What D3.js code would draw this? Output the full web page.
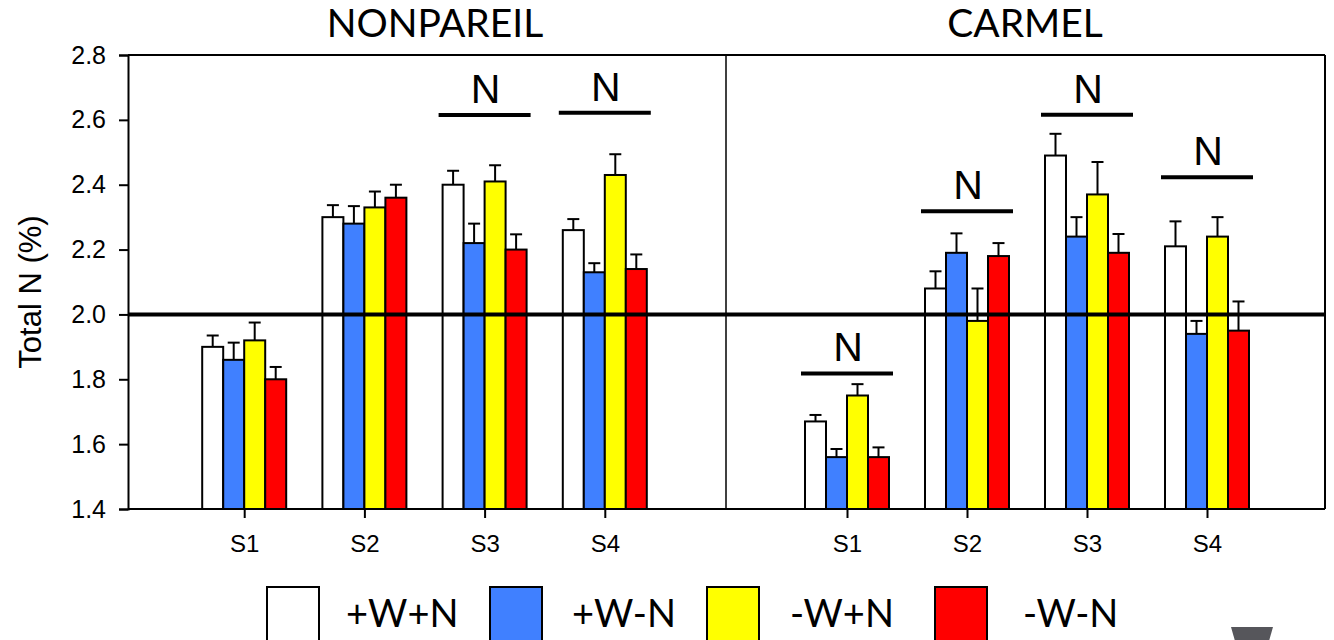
<!DOCTYPE html>
<html>
<head>
<meta charset="utf-8">
<script src="https://cdn.jsdelivr.net/npm/d3@7"></script>
<style>
  html, body { margin: 0; padding: 0; background: #fff; }
  svg { display: block; }
</style>
</head>
<body>
<svg id="chart" width="1334" height="640"></svg>
<script>
// Sampling dates and nitrogen/water treatments
const categories = ["S1", "S2", "S3", "S4"];
const series = ["+W+N", "+W-N", "-W+N", "-W-N"];
const seriesColors = ["#ffffff", "#4080ff", "#ffff00", "#ff0000"];
const yTicks = [1.4, 1.6, 1.8, 2.0, 2.2, 2.4, 2.6, 2.8];
const referenceLevel = 2.0;

// Leaf total N (%) per sampling date, one row per date, columns follow `series`
const nonpareilMeans = [
  [1.90, 1.86, 1.92, 1.80],
  [2.30, 2.28, 2.33, 2.36],
  [2.40, 2.22, 2.41, 2.20],
  [2.26, 2.13, 2.43, 2.14]
];
const nonpareilErrors = [
  [0.035, 0.053, 0.055, 0.038],
  [0.037, 0.054, 0.049, 0.040],
  [0.043, 0.060, 0.050, 0.047],
  [0.034, 0.028, 0.064, 0.045]
];
const carmelMeans = [
  [1.67, 1.56, 1.75, 1.56],
  [2.08, 2.19, 1.98, 2.18],
  [2.49, 2.24, 2.37, 2.19],
  [2.21, 1.94, 2.24, 1.95]
];
const carmelErrors = [
  [0.020, 0.025, 0.035, 0.030],
  [0.053, 0.060, 0.100, 0.040],
  [0.067, 0.060, 0.100, 0.058],
  [0.077, 0.040, 0.060, 0.090]
];
// Level of the "N" significance bar per date (null = no significant N effect)
const nonpareilSignificance = [null, null, 2.615, 2.622];
const carmelSignificance = [1.818, 2.318, 2.616, 2.423];

const panels = [
  { title: "NONPAREIL", means: nonpareilMeans, errors: nonpareilErrors, sig: nonpareilSignificance, range: [124, 725], titleX: 435 },
  { title: "CARMEL", means: carmelMeans, errors: carmelErrors, sig: carmelSignificance, range: [727, 1327], titleX: 1025 }
];

const svg = d3.select("#chart");
const frame = { left: 128, right: 1325, top: 55, bottom: 509, divider: 726 };

const y = d3.scaleLinear().domain([1.4, 2.8]).range([frame.bottom, frame.top]);
const inner = d3.scaleBand().domain(series).range([-42, 42]).padding(0);
const color = d3.scaleOrdinal().domain(series).range(seriesColors);

// Y axis
const yAxis = svg.append("g")
  .attr("transform", `translate(${frame.left},0)`)
  .call(d3.axisLeft(y).tickValues(yTicks).tickFormat(d3.format(".1f")).tickSize(9).tickPadding(13));
yAxis.select(".domain").attr("stroke", "#000").attr("stroke-width", 2);
yAxis.selectAll(".tick line").attr("stroke", "#000").attr("stroke-width", 2);
yAxis.selectAll(".tick text")
  .attr("font-family", "Arial, 'Liberation Sans', sans-serif")
  .attr("font-size", 25)
  .attr("fill", "#000");

svg.append("text")
  .attr("transform", `translate(41,${(frame.top + frame.bottom) / 2 + 10}) rotate(-90)`)
  .attr("text-anchor", "middle")
  .attr("font-family", "Arial, 'Liberation Sans', sans-serif")
  .attr("font-size", 31)
  .text("Total N (%)");

// Plot frame: top, right and middle divider
svg.append("line").attr("x1", frame.left).attr("x2", frame.right).attr("y1", frame.top).attr("y2", frame.top)
  .attr("stroke", "#000").attr("stroke-width", 2);
svg.append("line").attr("x1", frame.right).attr("x2", frame.right).attr("y1", frame.top).attr("y2", frame.bottom)
  .attr("stroke", "#000").attr("stroke-width", 2);
svg.append("line").attr("x1", frame.divider).attr("x2", frame.divider).attr("y1", frame.top).attr("y2", frame.bottom)
  .attr("stroke", "#000").attr("stroke-width", 1.5);

panels.forEach((panel, pi) => {
  const x = d3.scalePoint().domain(categories).range(panel.range).padding(1);

  // Bottom axis for this panel
  const xAxis = svg.append("g")
    .attr("transform", `translate(0,${frame.bottom})`)
    .call(d3.axisBottom(x).tickSize(9).tickPadding(17));
  xAxis.select(".domain").remove();
  xAxis.selectAll(".tick line").attr("stroke", "#000").attr("stroke-width", 2);
  xAxis.selectAll(".tick text")
    .attr("font-family", "Arial, 'Liberation Sans', sans-serif")
    .attr("font-size", 24)
    .attr("fill", "#000");

  svg.append("line")
    .attr("x1", pi === 0 ? frame.left : frame.divider)
    .attr("x2", pi === 0 ? frame.divider : frame.right)
    .attr("y1", frame.bottom).attr("y2", frame.bottom)
    .attr("stroke", "#000").attr("stroke-width", 2);

  // Bars and error bars
  categories.forEach((cat, ci) => {
    const g = svg.append("g").attr("transform", `translate(${x(cat)},0)`);
    const rows = series.map((s, si) => ({ s, v: panel.means[ci][si], e: panel.errors[ci][si] }));

    g.selectAll("line.err")
      .data(rows).join("line")
      .attr("class", "err")
      .attr("x1", d => inner(d.s) + inner.bandwidth() / 2)
      .attr("x2", d => inner(d.s) + inner.bandwidth() / 2)
      .attr("y1", d => y(d.v)).attr("y2", d => y(d.v + d.e))
      .attr("stroke", "#000").attr("stroke-width", 2);
    g.selectAll("line.cap")
      .data(rows).join("line")
      .attr("class", "cap")
      .attr("x1", d => inner(d.s) + inner.bandwidth() / 2 - 6)
      .attr("x2", d => inner(d.s) + inner.bandwidth() / 2 + 6)
      .attr("y1", d => y(d.v + d.e)).attr("y2", d => y(d.v + d.e))
      .attr("stroke", "#000").attr("stroke-width", 2);

    g.selectAll("rect")
      .data(rows).join("rect")
      .attr("x", d => inner(d.s))
      .attr("width", inner.bandwidth())
      .attr("y", d => y(d.v))
      .attr("height", d => y(1.4) - y(d.v))
      .attr("fill", d => color(d.s))
      .attr("stroke", "#000").attr("stroke-width", 2);

    // Significance marker
    const level = panel.sig[ci];
    if (level !== null) {
      g.append("line")
        .attr("x1", -46).attr("x2", 46)
        .attr("y1", y(level)).attr("y2", y(level))
        .attr("stroke", "#000").attr("stroke-width", 4);
      g.append("text")
        .attr("x", 1).attr("y", y(level) - 12)
        .attr("text-anchor", "middle")
        .attr("font-family", "Arial, 'Liberation Sans', sans-serif")
        .attr("font-size", 41)
        .text("N");
    }
  });

  svg.append("text")
    .attr("x", panel.titleX).attr("y", 37)
    .attr("text-anchor", "middle")
    .attr("font-family", "Lato, 'Open Sans', sans-serif")
    .attr("font-size", 39)
    .text(panel.title);
});

// Reference line at 2.0 %
svg.append("line")
  .attr("x1", frame.left).attr("x2", frame.right)
  .attr("y1", y(referenceLevel)).attr("y2", y(referenceLevel))
  .attr("stroke", "#000").attr("stroke-width", 4);

// Legend
const legendBoxX = [267, 490, 707, 935];
const legendTextX = [346, 572, 790, 1023];
const legend = svg.append("g");
series.forEach((s, i) => {
  legend.append("rect")
    .attr("x", legendBoxX[i]).attr("y", 587)
    .attr("width", 52).attr("height", 54)
    .attr("fill", color(s)).attr("stroke", "#000").attr("stroke-width", 2);
  legend.append("text")
    .attr("x", legendTextX[i]).attr("y", 627)
    .attr("font-family", "Lato, 'Open Sans', sans-serif")
    .attr("font-size", 38)
    .text(s);
});

// Dark marker at the lower right corner
svg.append("path")
  .attr("d", "M1231,627 L1273,627 L1269,641 L1235,641 Z")
  .attr("fill", "#56565b");
</script>
</body>
</html>
